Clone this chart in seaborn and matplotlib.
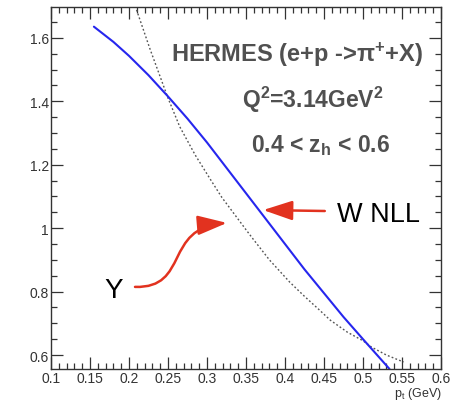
import numpy as np
import pandas as pd
import seaborn as sns
import matplotlib.pyplot as plt
from matplotlib.ticker import MultipleLocator, FuncFormatter
from matplotlib.patches import FancyArrowPatch
from matplotlib.path import Path

# W (NLL resummed) term vs transverse momentum
pt_wnll = [0.155, 0.18, 0.20, 0.225, 0.25, 0.275, 0.30, 0.325, 0.35, 0.375,
           0.40, 0.425, 0.45, 0.475, 0.50, 0.534]
w_nll = [1.635, 1.587, 1.543, 1.482, 1.415, 1.345, 1.27, 1.19, 1.11, 1.03,
         0.95, 0.87, 0.795, 0.72, 0.65, 0.556]

# Y (matching) term vs transverse momentum
pt_y = [0.208, 0.227, 0.25, 0.265, 0.285, 0.304, 0.319, 0.35, 0.359, 0.38,
        0.406, 0.425, 0.445, 0.458, 0.48, 0.50, 0.511, 0.53, 0.552]
y_term = [1.70, 1.564, 1.41, 1.32, 1.23, 1.155, 1.097, 0.995, 0.966, 0.90,
          0.830, 0.785, 0.740, 0.71, 0.672, 0.645, 0.625, 0.60, 0.578]

df_w = pd.DataFrame({"pt": pt_wnll, "val": w_nll})
df_y = pd.DataFrame({"pt": pt_y, "val": y_term})

sns.set_style("ticks")
plt.rcParams['font.family'] = ['Liberation Sans', 'DejaVu Sans']
plt.rcParams['mathtext.default'] = 'regular'

W, H = 454, 402
fig = plt.figure(figsize=(W / 100, H / 100), dpi=100)
fig.patch.set_facecolor('white')
ax = fig.add_axes([51 / W, 1 - 370 / H, 390 / W, 362 / H])
ax.set_facecolor('white')

sns.lineplot(data=df_y, x="pt", y="val", ax=ax, color='#555555', lw=1.0,
             linestyle=(0, (1.3, 1.6)))
sns.lineplot(data=df_w, x="pt", y="val", ax=ax, color='#2626ee', lw=1.5)

ax.set_xlim(0.1, 0.6)
ax.set_ylim(0.556, 1.697)
ax.set_xlabel("")
ax.set_ylabel("")

ax.xaxis.set_major_locator(MultipleLocator(0.05))
ax.xaxis.set_minor_locator(MultipleLocator(0.01))
ax.yaxis.set_major_locator(MultipleLocator(0.2))
ax.yaxis.set_minor_locator(MultipleLocator(0.05))
fmt = FuncFormatter(lambda v, p: f"{v:g}")
ax.xaxis.set_major_formatter(fmt)
ax.yaxis.set_major_formatter(fmt)

ax.tick_params(which='both', direction='in', top=True, right=True,
               colors='#333333', width=0.9)
ax.tick_params(which='major', length=8.4, labelsize=10)
ax.tick_params(which='minor', length=4.2)
ax.tick_params(axis='x', which='major', pad=1.5)
ax.tick_params(axis='y', which='major', pad=1.5)
for s in ax.spines.values():
    s.set_color('#333333')
    s.set_linewidth(1.0)

fig.text(442 / W, 1 - 397 / H, r"p$_t$ (GeV)", ha='right', va='baseline',
         fontsize=9, color='#333333')

# Kinematic labels
txt_col = '#505050'
ax.text(0.4154, 1.527, r"HERMES (e+p ->$\pi^{+}$+X)", ha='center',
        va='baseline', fontsize=17, fontweight='bold', color=txt_col)
ax.text(0.4359, 1.381, r"Q$^{2}$=3.14GeV$^{2}$", ha='center',
        va='baseline', fontsize=16.5, fontweight='bold', color=txt_col)
ax.text(0.4449, 1.244, r"0.4 < z$_{h}$ < 0.6", ha='center',
        va='baseline', fontsize=16.5, fontweight='bold', color=txt_col)

# Curve labels with arrows
red = '#e2321f'
astyle = '-|>,head_length=1.8,head_width=0.6'
ax.text(0.4667, 1.0236, "W NLL", ha='left', va='baseline', fontsize=19.5,
        color='black')
ax.annotate('', xy=(0.372, 1.057), xytext=(0.451, 1.054),
            arrowprops=dict(arrowstyle=astyle, color=red, lw=1.8,
                            mutation_scale=10, shrinkA=0, shrinkB=0))

ax.text(0.1803, 0.7823, "Y", ha='center', va='baseline', fontsize=20,
        color='black')
s_path = Path([(0.2077, 0.8148), (0.2780, 0.8100), (0.2440, 1.0000),
               (0.3256, 1.0164)],
              [Path.MOVETO, Path.CURVE4, Path.CURVE4, Path.CURVE4])
ax.add_patch(FancyArrowPatch(path=s_path, arrowstyle=astyle, color=red,
                             lw=1.8, mutation_scale=10,
                             transform=ax.transData))

fig.savefig("out.png", dpi=100, facecolor='white')
